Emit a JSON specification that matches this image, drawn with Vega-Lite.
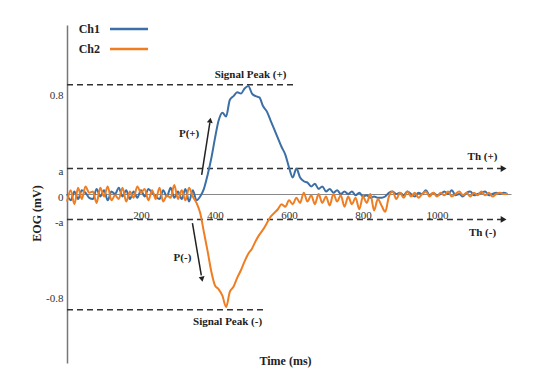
{
  "$schema": "https://vega.github.io/schema/vega-lite/v6.json",
  "width": 444,
  "height": 338,
  "autosize": "none",
  "padding": {"left": 67, "top": 25, "right": 34, "bottom": 11},
  "background": "white",
  "config": {"view": {"stroke": null}, "font": "Liberation Serif, DejaVu Serif, serif"},
  "datasets": {
    "signals": [
      {"t":0,"ch":"Ch1","v":0},{"t":10,"ch":"Ch1","v":-0.05},{"t":20,"ch":"Ch1","v":0.02},{"t":30,"ch":"Ch1","v":-0.04},{"t":40,"ch":"Ch1","v":0.03},{"t":50,"ch":"Ch1","v":0.01},{"t":60,"ch":"Ch1","v":-0.03},{"t":70,"ch":"Ch1","v":-0.04},{"t":80,"ch":"Ch1","v":0.04},{"t":90,"ch":"Ch1","v":-0.02},
      {"t":100,"ch":"Ch1","v":0.03},{"t":110,"ch":"Ch1","v":-0.05},{"t":120,"ch":"Ch1","v":0.02},{"t":130,"ch":"Ch1","v":0},{"t":140,"ch":"Ch1","v":0.05},{"t":150,"ch":"Ch1","v":-0.02},{"t":160,"ch":"Ch1","v":0.03},{"t":170,"ch":"Ch1","v":-0.04},{"t":180,"ch":"Ch1","v":0.02},{"t":190,"ch":"Ch1","v":-0.03},
      {"t":200,"ch":"Ch1","v":0.03},{"t":210,"ch":"Ch1","v":-0.02},{"t":220,"ch":"Ch1","v":0.04},{"t":230,"ch":"Ch1","v":0.01},{"t":240,"ch":"Ch1","v":-0.02},{"t":250,"ch":"Ch1","v":-0.04},{"t":260,"ch":"Ch1","v":0.03},{"t":270,"ch":"Ch1","v":-0.02},{"t":280,"ch":"Ch1","v":0.05},{"t":290,"ch":"Ch1","v":-0.03},
      {"t":300,"ch":"Ch1","v":0.02},{"t":310,"ch":"Ch1","v":-0.04},{"t":320,"ch":"Ch1","v":0.04},{"t":330,"ch":"Ch1","v":-0.06},{"t":340,"ch":"Ch1","v":0.03},{"t":350,"ch":"Ch1","v":-0.05},{"t":360,"ch":"Ch1","v":-0.02},{"t":370,"ch":"Ch1","v":0.04},{"t":380,"ch":"Ch1","v":0.15},{"t":390,"ch":"Ch1","v":0.28},
      {"t":400,"ch":"Ch1","v":0.44},{"t":410,"ch":"Ch1","v":0.58},{"t":420,"ch":"Ch1","v":0.64},{"t":430,"ch":"Ch1","v":0.61},{"t":440,"ch":"Ch1","v":0.74},{"t":450,"ch":"Ch1","v":0.77},{"t":460,"ch":"Ch1","v":0.8},{"t":470,"ch":"Ch1","v":0.79},{"t":480,"ch":"Ch1","v":0.83},{"t":490,"ch":"Ch1","v":0.85},
      {"t":500,"ch":"Ch1","v":0.79},{"t":510,"ch":"Ch1","v":0.77},{"t":520,"ch":"Ch1","v":0.76},{"t":530,"ch":"Ch1","v":0.69},{"t":540,"ch":"Ch1","v":0.65},{"t":550,"ch":"Ch1","v":0.58},{"t":560,"ch":"Ch1","v":0.51},{"t":570,"ch":"Ch1","v":0.44},{"t":580,"ch":"Ch1","v":0.37},{"t":590,"ch":"Ch1","v":0.31},
      {"t":600,"ch":"Ch1","v":0.21},{"t":610,"ch":"Ch1","v":0.13},{"t":620,"ch":"Ch1","v":0.2},{"t":630,"ch":"Ch1","v":0.13},{"t":640,"ch":"Ch1","v":0.1},{"t":650,"ch":"Ch1","v":0.09},{"t":660,"ch":"Ch1","v":0.06},{"t":670,"ch":"Ch1","v":0.08},{"t":680,"ch":"Ch1","v":0.04},{"t":690,"ch":"Ch1","v":0.06},
      {"t":700,"ch":"Ch1","v":0.02},{"t":710,"ch":"Ch1","v":0.04},{"t":720,"ch":"Ch1","v":0.01},{"t":730,"ch":"Ch1","v":0.03},{"t":740,"ch":"Ch1","v":0},{"t":750,"ch":"Ch1","v":0.02},{"t":760,"ch":"Ch1","v":0},{"t":770,"ch":"Ch1","v":0.02},{"t":780,"ch":"Ch1","v":-0.01},{"t":790,"ch":"Ch1","v":0.01},
      {"t":800,"ch":"Ch1","v":-0.02},{"t":810,"ch":"Ch1","v":-0.01},{"t":820,"ch":"Ch1","v":-0.03},{"t":830,"ch":"Ch1","v":-0.02},{"t":840,"ch":"Ch1","v":-0.03},{"t":850,"ch":"Ch1","v":-0.03},{"t":860,"ch":"Ch1","v":-0.02},{"t":870,"ch":"Ch1","v":0.01},{"t":880,"ch":"Ch1","v":0.02},{"t":890,"ch":"Ch1","v":0},
      {"t":900,"ch":"Ch1","v":0.01},{"t":910,"ch":"Ch1","v":-0.01},{"t":920,"ch":"Ch1","v":0.02},{"t":930,"ch":"Ch1","v":0},{"t":940,"ch":"Ch1","v":-0.02},{"t":950,"ch":"Ch1","v":0.01},{"t":960,"ch":"Ch1","v":0},{"t":970,"ch":"Ch1","v":0.03},{"t":980,"ch":"Ch1","v":-0.01},{"t":990,"ch":"Ch1","v":0.01},
      {"t":1000,"ch":"Ch1","v":-0.01},{"t":1010,"ch":"Ch1","v":0},{"t":1020,"ch":"Ch1","v":0.02},{"t":1030,"ch":"Ch1","v":0},{"t":1040,"ch":"Ch1","v":0.03},{"t":1050,"ch":"Ch1","v":-0.01},{"t":1060,"ch":"Ch1","v":0},{"t":1070,"ch":"Ch1","v":-0.02},{"t":1080,"ch":"Ch1","v":0.01},{"t":1090,"ch":"Ch1","v":0.02},
      {"t":1100,"ch":"Ch1","v":-0.01},{"t":1110,"ch":"Ch1","v":0},{"t":1120,"ch":"Ch1","v":0.01},{"t":1130,"ch":"Ch1","v":0.02},{"t":1140,"ch":"Ch1","v":-0.01},{"t":1150,"ch":"Ch1","v":0},{"t":1160,"ch":"Ch1","v":0.01},{"t":1170,"ch":"Ch1","v":0},{"t":1180,"ch":"Ch1","v":0.01},{"t":1190,"ch":"Ch1","v":0},
      {"t":0,"ch":"Ch2","v":-0.06},{"t":10,"ch":"Ch2","v":0.03},{"t":20,"ch":"Ch2","v":-0.08},{"t":30,"ch":"Ch2","v":0.05},{"t":40,"ch":"Ch2","v":-0.04},{"t":50,"ch":"Ch2","v":0.06},{"t":60,"ch":"Ch2","v":0.01},{"t":70,"ch":"Ch2","v":0.02},{"t":80,"ch":"Ch2","v":-0.07},{"t":90,"ch":"Ch2","v":0.05},
      {"t":100,"ch":"Ch2","v":-0.02},{"t":110,"ch":"Ch2","v":0.06},{"t":120,"ch":"Ch2","v":-0.05},{"t":130,"ch":"Ch2","v":-0.01},{"t":140,"ch":"Ch2","v":-0.04},{"t":150,"ch":"Ch2","v":0.05},{"t":160,"ch":"Ch2","v":-0.06},{"t":170,"ch":"Ch2","v":0.02},{"t":180,"ch":"Ch2","v":-0.03},{"t":190,"ch":"Ch2","v":0.06},
      {"t":200,"ch":"Ch2","v":0.01},{"t":210,"ch":"Ch2","v":0.04},{"t":220,"ch":"Ch2","v":-0.05},{"t":230,"ch":"Ch2","v":0.03},{"t":240,"ch":"Ch2","v":-0.04},{"t":250,"ch":"Ch2","v":0.05},{"t":260,"ch":"Ch2","v":-0.06},{"t":270,"ch":"Ch2","v":-0.01},{"t":280,"ch":"Ch2","v":-0.03},{"t":290,"ch":"Ch2","v":0.07},
      {"t":300,"ch":"Ch2","v":-0.04},{"t":310,"ch":"Ch2","v":0.03},{"t":320,"ch":"Ch2","v":-0.05},{"t":330,"ch":"Ch2","v":0.05},{"t":340,"ch":"Ch2","v":-0.02},{"t":350,"ch":"Ch2","v":-0.07},{"t":360,"ch":"Ch2","v":-0.15},{"t":370,"ch":"Ch2","v":-0.3},{"t":380,"ch":"Ch2","v":-0.45},{"t":390,"ch":"Ch2","v":-0.61},
      {"t":400,"ch":"Ch2","v":-0.72},{"t":410,"ch":"Ch2","v":-0.75},{"t":420,"ch":"Ch2","v":-0.8},{"t":430,"ch":"Ch2","v":-0.89},{"t":440,"ch":"Ch2","v":-0.77},{"t":450,"ch":"Ch2","v":-0.73},{"t":460,"ch":"Ch2","v":-0.66},{"t":470,"ch":"Ch2","v":-0.6},{"t":480,"ch":"Ch2","v":-0.53},{"t":490,"ch":"Ch2","v":-0.47},
      {"t":500,"ch":"Ch2","v":-0.43},{"t":510,"ch":"Ch2","v":-0.37},{"t":520,"ch":"Ch2","v":-0.32},{"t":530,"ch":"Ch2","v":-0.28},{"t":540,"ch":"Ch2","v":-0.23},{"t":550,"ch":"Ch2","v":-0.18},{"t":560,"ch":"Ch2","v":-0.15},{"t":570,"ch":"Ch2","v":-0.12},{"t":580,"ch":"Ch2","v":-0.08},{"t":590,"ch":"Ch2","v":-0.1},
      {"t":600,"ch":"Ch2","v":-0.05},{"t":610,"ch":"Ch2","v":-0.08},{"t":620,"ch":"Ch2","v":-0.03},{"t":630,"ch":"Ch2","v":-0.07},{"t":640,"ch":"Ch2","v":0.01},{"t":650,"ch":"Ch2","v":-0.06},{"t":660,"ch":"Ch2","v":-0.01},{"t":670,"ch":"Ch2","v":-0.08},{"t":680,"ch":"Ch2","v":0},{"t":690,"ch":"Ch2","v":-0.07},
      {"t":700,"ch":"Ch2","v":-0.02},{"t":710,"ch":"Ch2","v":-0.09},{"t":720,"ch":"Ch2","v":0},{"t":730,"ch":"Ch2","v":-0.06},{"t":740,"ch":"Ch2","v":-0.01},{"t":750,"ch":"Ch2","v":-0.1},{"t":760,"ch":"Ch2","v":-0.02},{"t":770,"ch":"Ch2","v":-0.08},{"t":780,"ch":"Ch2","v":-0.03},{"t":790,"ch":"Ch2","v":-0.12},
      {"t":800,"ch":"Ch2","v":-0.02},{"t":810,"ch":"Ch2","v":-0.07},{"t":820,"ch":"Ch2","v":0},{"t":830,"ch":"Ch2","v":-0.13},{"t":840,"ch":"Ch2","v":-0.04},{"t":850,"ch":"Ch2","v":-0.09},{"t":860,"ch":"Ch2","v":-0.14},{"t":870,"ch":"Ch2","v":-0.02},{"t":880,"ch":"Ch2","v":0.02},{"t":890,"ch":"Ch2","v":-0.04},
      {"t":900,"ch":"Ch2","v":0.01},{"t":910,"ch":"Ch2","v":-0.03},{"t":920,"ch":"Ch2","v":0.02},{"t":930,"ch":"Ch2","v":-0.02},{"t":940,"ch":"Ch2","v":0.01},{"t":950,"ch":"Ch2","v":-0.03},{"t":960,"ch":"Ch2","v":0},{"t":970,"ch":"Ch2","v":0.02},{"t":980,"ch":"Ch2","v":-0.02},{"t":990,"ch":"Ch2","v":0.01},
      {"t":1000,"ch":"Ch2","v":-0.02},{"t":1010,"ch":"Ch2","v":0.01},{"t":1020,"ch":"Ch2","v":-0.01},{"t":1030,"ch":"Ch2","v":0.02},{"t":1040,"ch":"Ch2","v":-0.02},{"t":1050,"ch":"Ch2","v":0},{"t":1060,"ch":"Ch2","v":0.02},{"t":1070,"ch":"Ch2","v":-0.01},{"t":1080,"ch":"Ch2","v":0.01},{"t":1090,"ch":"Ch2","v":-0.02},
      {"t":1100,"ch":"Ch2","v":0.01},{"t":1110,"ch":"Ch2","v":-0.01},{"t":1120,"ch":"Ch2","v":0.02},{"t":1130,"ch":"Ch2","v":-0.01},{"t":1140,"ch":"Ch2","v":0.01},{"t":1150,"ch":"Ch2","v":-0.02},{"t":1160,"ch":"Ch2","v":0},{"t":1170,"ch":"Ch2","v":0.01},{"t":1180,"ch":"Ch2","v":0},{"t":1190,"ch":"Ch2","v":0}
    ],
    "levels": [
      {"name":"Signal Peak (+)","y":0.86,"x0":0,"x1":620},
      {"name":"Th (+)","y":0.2,"x0":0,"x1":1188},
      {"name":"Th (-)","y":-0.2,"x0":0,"x1":1188},
      {"name":"Signal Peak (-)","y":-0.91,"x0":0,"x1":534}
    ],
    "thArrows": [{"x":1180,"y":0.2},{"x":1180,"y":-0.2}],
    "pArrows": [
      {"name":"P(+)","x0":364,"y0":0.15,"x1":386,"y1":0.56},
      {"name":"P(-)","x0":339,"y0":-0.23,"x1":363,"y1":-0.64}
    ],
    "labels": [
      {"label":"Signal Peak (+)","x":496,"y":0.94},
      {"label":"Signal Peak (-)","x":434,"y":-1.01},
      {"label":"Th (+)","x":1123,"y":0.29},
      {"label":"Th (-)","x":1123,"y":-0.31},
      {"label":"P(+)","x":330,"y":0.47},
      {"label":"P(-)","x":312,"y":-0.5}
    ]
  },
  "layer": [
    {
      "data": {"name": "levels"},
      "mark": {"type": "rule", "strokeDash": [6, 4], "strokeWidth": 1.5, "color": "#333"},
      "encoding": {
        "x": {"field": "x0", "type": "quantitative", "scale": {"domain": [0, 1200], "nice": false, "zero": false}, "axis": {
          "values": [200, 400, 600, 800, 1000], "format": "d", "offset": -169, "ticks": false, "grid": false,
          "domainColor": "#888", "domainWidth": 1, "labelFontSize": 11,
          "labelColor": "#333", "labelPadding": 15, "title": "Time (ms)",
          "titleFontSize": 12, "titleFontWeight": "bold", "titleColor": "#222", "titleX": 218, "titleY": 166,
          "titleBaseline": "middle", "titleAlign": "center"
        }},
        "x2": {"field": "x1"},
        "y": {"field": "y", "type": "quantitative", "scale": {"domain": [-1.33, 1.33], "nice": false, "zero": false}, "axis": {
          "values": [-0.8, -0.2, 0, 0.2, 0.8],
          "labelExpr": "datum.value == 0.8 ? '0.8' : datum.value == 0.2 ? 'a' : datum.value == 0 ? '0' : datum.value == -0.2 ? '-a' : '-0.8'",
          "ticks": false, "grid": false, "domainColor": "#777", "domainWidth": 1.5, "labelPadding": 4,
          "labelOffset": 3, "labelFontSize": 11, "labelColor": "#333",
          "title": "EOG (mV)", "titleFontSize": 12, "titleFontWeight": "bold",
          "titleColor": "#222", "titleX": -31, "titleY": 188, "titleBaseline": "middle", "titleAlign": "center"
        }}
      }
    },
    {
      "data": {"name": "thArrows"},
      "mark": {"type": "point", "shape": "triangle-right", "filled": true, "size": 45, "color": "#222", "opacity": 1},
      "encoding": {
        "x": {"field": "x", "type": "quantitative"},
        "y": {"field": "y", "type": "quantitative"}
      }
    },
    {
      "data": {"name": "signals"},
      "mark": {"type": "line", "strokeWidth": 2, "interpolate": "monotone"},
      "encoding": {
        "x": {"field": "t", "type": "quantitative"},
        "y": {"field": "v", "type": "quantitative"},
        "color": {"field": "ch", "type": "nominal", "scale": {"domain": ["Ch1", "Ch2"], "range": ["#3b6fa6", "#ef7d22"]},
          "legend": {"orient": "none", "legendX": 51, "legendY": -7, "title": null, "symbolType": "M-2,0H2",
            "symbolSize": 361, "symbolStrokeWidth": 2.5, "labelAlign": "right", "labelOffset": -40,
            "labelFontSize": 12, "labelFontWeight": "bold", "labelColor": "#222",
            "rowPadding": 3, "padding": 0}}
      }
    },
    {
      "data": {"name": "pArrows"},
      "mark": {"type": "rule", "strokeWidth": 1.5, "color": "#222"},
      "encoding": {
        "x": {"field": "x0", "type": "quantitative"},
        "x2": {"field": "x1"},
        "y": {"field": "y0", "type": "quantitative"},
        "y2": {"field": "y1"}
      }
    },
    {
      "data": {"values": [{"x": 387, "y": 0.58}]},
      "mark": {"type": "point", "shape": "triangle-up", "angle": 9, "filled": true, "size": 35, "color": "#222", "opacity": 1},
      "encoding": {"x": {"field": "x", "type": "quantitative"}, "y": {"field": "y", "type": "quantitative"}}
    },
    {
      "data": {"values": [{"x": 365, "y": -0.67}]},
      "mark": {"type": "point", "shape": "triangle-up", "angle": 170, "filled": true, "size": 35, "color": "#222", "opacity": 1},
      "encoding": {"x": {"field": "x", "type": "quantitative"}, "y": {"field": "y", "type": "quantitative"}}
    },
    {
      "data": {"name": "labels"},
      "mark": {"type": "text", "fontSize": 11, "fontWeight": "bold", "color": "#222", "align": "center", "baseline": "middle"},
      "encoding": {
        "x": {"field": "x", "type": "quantitative"},
        "y": {"field": "y", "type": "quantitative"},
        "text": {"field": "label"}
      }
    }
  ]
}
